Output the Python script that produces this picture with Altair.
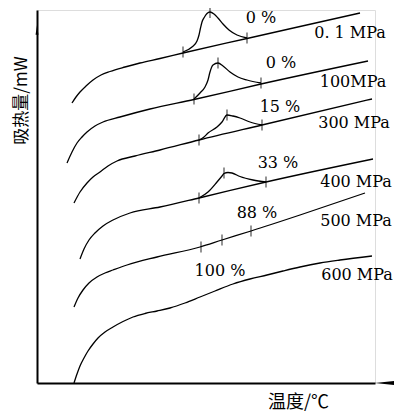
import altair as alt
import pandas as pd

# ---- values (temperature: arbitrary units, heat absorption: arbitrary units)
# main (baseline) curves
c1_t = [35, 39, 43, 49, 56, 64, 73, 88, 103, 123, 146, 210, 263, 323]
c1_h = [280, 286, 291, 297, 303, 308, 311.5, 316, 320, 324.5, 330, 344.5, 356.5, 370]
c2_t = [30, 35, 40, 45, 50, 58, 66, 83, 113, 157, 224, 331]
c2_h = [220, 231, 240, 246, 251, 257, 261, 266, 274, 283.5, 299, 322]
c3_t = [37, 43, 50, 56, 63, 71, 80, 98, 123, 162, 225, 335]
c3_h = [180, 191, 200, 206, 211, 217, 222, 227, 233, 243, 258, 284]
c4_t = [43, 47, 52, 58, 66, 76, 93, 123, 162, 229, 336]
c4_h = [124, 134, 143, 150, 157, 163, 170, 176, 185, 201, 224]
c5_t = [37, 41, 46, 52, 60, 68, 76, 90, 120, 163, 185, 214, 263, 328]
c5_h = [76, 85, 93, 100, 106, 110, 113, 118, 126, 136, 143, 152, 168, 190]
c6_t = [37, 40, 43, 47, 51, 56, 61, 68, 76, 86, 96, 108, 120, 133, 148, 163, 178, 196, 213, 230, 246, 263, 283, 303, 335]
c6_h = [0, 9, 17, 25, 32, 39, 45, 51, 56, 61.5, 66, 69.5, 72, 75, 80, 86, 92, 99, 104, 108, 112, 116, 120, 123, 127]

# endothermic peaks
p1_t = [146, 155, 160, 162, 163.5, 165, 167.5, 170, 173, 177, 181, 186, 192, 200, 210]
p1_h = [331, 336, 342, 348, 355, 361, 366, 369.5, 371, 369, 365, 359, 353, 348, 345]
p2_t = [157, 163, 168, 171, 173, 176, 181, 186, 193, 201, 210, 224]
p2_h = [284, 290, 296, 303, 311, 318, 320, 317, 311, 306, 303, 300]
p3_t = [162, 167, 171, 180, 185, 190, 196, 203, 213, 225]
p3_h = [243, 246, 250, 256, 261, 268, 267, 265, 261, 258]
p4_t = [162, 171, 180, 185, 187, 191, 195, 203, 216, 229]
p4_h = [185, 191, 201, 207, 209.5, 210.5, 210, 206.5, 203, 201]

# tick marks on the curves
tick_t = [146, 173, 210, 157, 181, 224, 162, 190, 225, 162, 187, 229, 164, 185, 214]
tick_h = [331, 370.5, 345, 284, 320, 300, 243, 268, 258, 185, 210, 201, 136, 143, 152]

# labels
lab_text = ["0 %", "0. 1 MPa", "0 %", "100MPa", "15 %", "300 MPa",
            "33 %", "400 MPa", "88 %", "500 MPa", "100 %", "600 MPa"]
lab_t = [224, 313, 244, 316, 243, 317, 241, 319, 220, 319, 183, 320]
lab_h = [365, 350, 320, 301, 276, 260, 220, 201, 170, 162, 112, 108]

# axis arrow heads
arrow_t = [350.5, 0]
arrow_h = [0, 353]
arrow_shape = ["left", "up"]

# ---- tables
series = {
    "c1": (c1_t, c1_h), "c2": (c2_t, c2_h), "c3": (c3_t, c3_h),
    "c4": (c4_t, c4_h), "c5": (c5_t, c5_h), "c6": (c6_t, c6_h),
    "p1": (p1_t, p1_h), "p2": (p2_t, p2_h), "p3": (p3_t, p3_h), "p4": (p4_t, p4_h),
}
rows = []
for name, (ts, hs) in series.items():
    for t, h in zip(ts, hs):
        rows.append({"s": name, "t": t, "h": h})
curves = pd.DataFrame(rows)
ticks = pd.DataFrame({"t": tick_t, "h": tick_h})
labels = pd.DataFrame({"text": lab_text, "t": lab_t, "h": lab_h})
arrows = pd.DataFrame({"t": arrow_t, "h": arrow_h, "shape": arrow_shape})

xs = alt.Scale(domain=[0, 338], nice=False, zero=False)
ys = alt.Scale(domain=[0, 373], nice=False, zero=False)

xenc = alt.X("t:Q", scale=xs, axis=alt.Axis(
    title="温度/℃", labels=False, ticks=False, grid=False,
    domainColor="black", domainWidth=2,
    titleFont="Noto Sans CJK SC", titleFontSize=18, titleFontWeight="normal",
    titleColor="black", titleX=261, titleY=24, titleAlign="center",
    titleBaseline="alphabetic"))
yenc = alt.Y("h:Q", scale=ys, axis=alt.Axis(
    title="吸热量/mW", labels=False, ticks=False, grid=False,
    domainColor="black", domainWidth=2,
    titleFont="Noto Sans CJK SC", titleFontSize=17, titleFontWeight="normal",
    titleColor="black", titleX=-16, titleY=90, titleAngle=270,
    titleAlign="center", titleBaseline="middle"))

lines = alt.Chart(curves).mark_line(
    color="black", strokeWidth=1.3, interpolate="monotone"
).encode(x=xenc, y=yenc, detail="s:N", order="t:Q")

tk = alt.Chart(ticks).mark_tick(
    orient="vertical", color="black", size=11, thickness=1.2
).encode(x="t:Q", y="h:Q")

tx = alt.Chart(labels).mark_text(
    font="DejaVu Serif", fontSize=16, color="black",
    align="center", baseline="middle"
).encode(x="t:Q", y="h:Q", text="text:N")

arr_left = alt.Chart(arrows[arrows["shape"] == "left"]).mark_point(
    shape="M -1 0 L 1 -0.22 L 1 0.22 Z", filled=True, color="black",
    size=650, opacity=1
).encode(x="t:Q", y="h:Q")
arr_up = alt.Chart(arrows[arrows["shape"] == "up"]).mark_point(
    shape="M 0 -1 L 0.3 1 L -0.3 1 Z", filled=True, color="black",
    size=90, opacity=1
).encode(x="t:Q", y="h:Q")

chart = alt.layer(lines, tk, tx, arr_left, arr_up).properties(
    width=338, height=373,
    padding={"left": 29, "top": 2, "right": 19, "bottom": 30},
    autosize=alt.AutoSizeParams(type="none"),
).configure_view(stroke=None).configure(background="white")

chart.save("out.html", embed_options={"renderer": "svg", "actions": False})
